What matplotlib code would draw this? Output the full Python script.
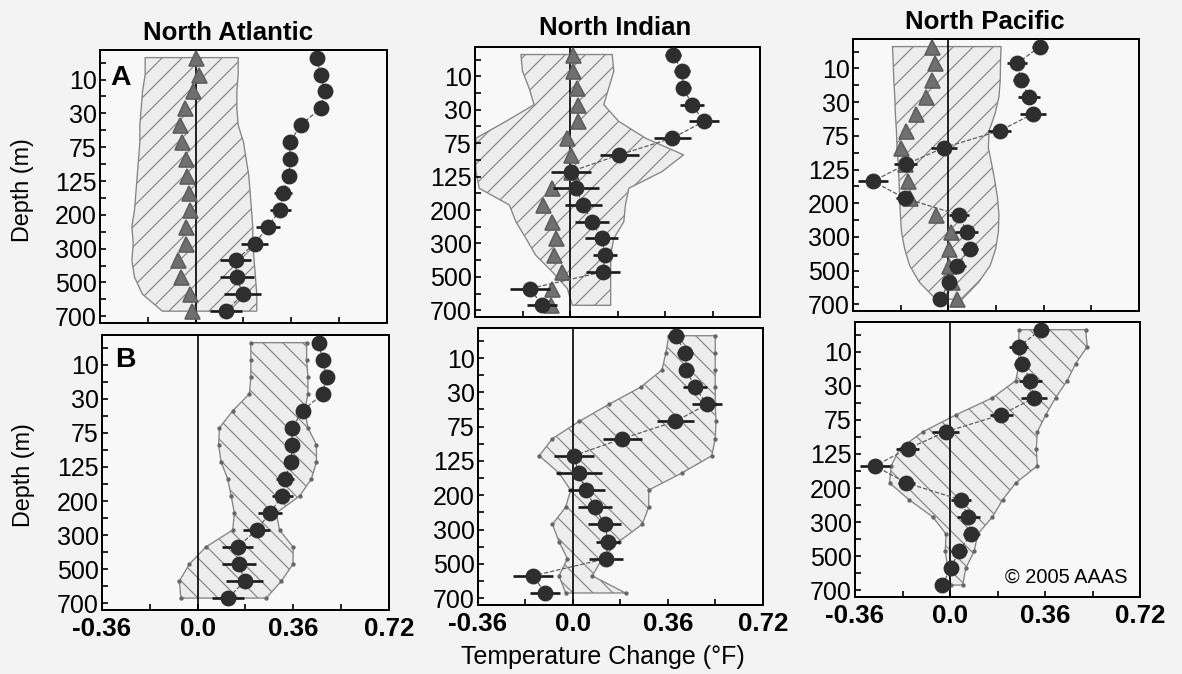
import numpy as np
import matplotlib.pyplot as plt

W, H, DPI = 1182, 674, 120

plt.rcParams['font.family'] = ['Liberation Sans', 'DejaVu Sans']
plt.rcParams['hatch.linewidth'] = 0.7

depths = [0, 10, 20, 30, 50, 75, 100, 125, 150, 200, 250, 300, 400, 500, 600, 700]
oceans = ['North Atlantic', 'North Indian', 'North Pacific']
x_ticks = [-0.36, -0.18, 0.0, 0.18, 0.36, 0.54, 0.72]
x_ticklabels = ['-0.36', '', '0.0', '', '0.36', '', '0.72']

# observed warming (circles) with error bars, shown in both rows
na_obs = [0.455, 0.47, 0.485, 0.47, 0.395, 0.355, 0.355, 0.352, 0.328, 0.318, 0.272, 0.222, 0.15, 0.155, 0.177, 0.115]
na_err = [0.015, 0.015, 0.015, 0.015, 0.025, 0.025, 0.02, 0.025, 0.035, 0.04, 0.045, 0.05, 0.06, 0.065, 0.07, 0.06]
ni_obs = [0.39, 0.425, 0.43, 0.462, 0.508, 0.387, 0.187, 0.003, 0.022, 0.05, 0.083, 0.12, 0.133, 0.125, -0.152, -0.105]
ni_err = [0.03, 0.03, 0.03, 0.044, 0.057, 0.07, 0.075, 0.075, 0.088, 0.07, 0.063, 0.063, 0.044, 0.063, 0.075, 0.057]
np_obs = [0.345, 0.26, 0.274, 0.305, 0.319, 0.194, -0.017, -0.161, -0.285, -0.165, 0.041, 0.069, 0.08, 0.034, 0.003, -0.03]
np_err = [0.03, 0.037, 0.03, 0.043, 0.05, 0.043, 0.05, 0.043, 0.056, 0.031, 0.037, 0.043, 0.031, 0.031, 0.025, 0.019]

# row A: natural model mean (triangles) and its range
na_nat = [0.0, 0.012, -0.01, -0.04, -0.06, -0.05, -0.037, -0.031, -0.025, -0.022, -0.035, -0.037, -0.068, -0.056, -0.022, -0.012]
ni_nat = [0.013, 0.013, 0.028, 0.031, 0.031, -0.01, 0.003, 0.003, -0.067, -0.104, -0.067, -0.054, -0.06, -0.029, -0.067, -0.073]
np_nat = [-0.06, -0.05, -0.06, -0.084, -0.122, -0.159, -0.177, -0.165, -0.153, -0.146, -0.045, 0.009, 0.002, 0.002, 0.015, 0.034]
na_nat_lo = [-0.19, -0.19, -0.2, -0.205, -0.21, -0.21, -0.215, -0.22, -0.225, -0.23, -0.24, -0.235, -0.24, -0.23, -0.2, -0.125]
na_nat_hi = [0.16, 0.16, 0.155, 0.155, 0.16, 0.18, 0.19, 0.2, 0.205, 0.21, 0.215, 0.215, 0.22, 0.225, 0.23, 0.23]
ni_nat_lo = [-0.186, -0.18, -0.155, -0.136, -0.243, -0.356, -0.359, -0.356, -0.344, -0.23, -0.205, -0.167, -0.13, -0.067, -0.01, 0.009]
ni_nat_hi = [0.16, 0.166, 0.147, 0.128, 0.185, 0.286, 0.43, 0.349, 0.223, 0.21, 0.204, 0.166, 0.154, 0.154, 0.154, 0.154]
np_nat_lo = [-0.211, -0.208, -0.206, -0.202, -0.2, -0.196, -0.194, -0.189, -0.186, -0.184, -0.181, -0.177, -0.165, -0.146, -0.109, -0.047]
np_nat_hi = [0.199, 0.197, 0.196, 0.191, 0.176, 0.154, 0.151, 0.164, 0.176, 0.186, 0.191, 0.189, 0.179, 0.158, 0.114, 0.052]

# row B: anthropogenic model range
na_ant_lo = [0.2, 0.2, 0.2, 0.195, 0.132, 0.082, 0.079, 0.088, 0.113, 0.126, 0.138, 0.132, 0.031, -0.031, -0.069, -0.063]
na_ant_hi = [0.41, 0.41, 0.415, 0.415, 0.403, 0.415, 0.447, 0.447, 0.428, 0.384, 0.296, 0.308, 0.359, 0.359, 0.315, 0.258]
ni_ant_lo = [0.363, 0.352, 0.337, 0.256, 0.136, 0.023, -0.078, -0.128, -0.053, -0.009, -0.028, -0.078, -0.053, -0.021, -0.053, -0.028]
ni_ant_hi = [0.539, 0.539, 0.539, 0.539, 0.539, 0.542, 0.539, 0.526, 0.413, 0.287, 0.287, 0.262, 0.174, 0.111, 0.073, 0.199]
np_ant_lo = [0.262, 0.259, 0.262, 0.249, 0.161, 0.023, -0.103, -0.191, -0.223, -0.229, -0.154, -0.065, -0.015, -0.018, -0.009, 0.004]
np_ant_hi = [0.514, 0.52, 0.476, 0.444, 0.4, 0.363, 0.331, 0.327, 0.331, 0.249, 0.199, 0.161, 0.105, 0.092, 0.06, 0.048]

obs = [(na_obs, na_err), (ni_obs, ni_err), (np_obs, np_err)]
nat = [(na_nat, na_nat_lo, na_nat_hi), (ni_nat, ni_nat_lo, ni_nat_hi), (np_nat, np_nat_lo, np_nat_hi)]
ant = [(na_ant_lo, na_ant_hi), (ni_ant_lo, ni_ant_hi), (np_ant_lo, np_ant_hi)]

# axes boxes in pixels (left, top, right, bottom), the scan is slightly skewed
boxes = [[(100, 50, 387, 323), (475, 47, 760, 317), (853, 39, 1139, 311)],
         [(102, 335, 389, 610), (478, 328, 763, 605), (855, 322, 1140, 597)]]


def px_axes(fig, box):
    l, t, r, b = box
    return fig.add_axes([l / W, 1 - b / H, (r - l) / W, (b - t) / H])


def draw_panel(ax, col, row):
    y = np.arange(len(depths))
    o, e = obs[col]
    if row == 0:
        mean, lo, hi = nat[col]
        hatch = '//'
    else:
        lo, hi = ant[col]
        hatch = '\\\\'
    ax.fill_betweenx(y, lo, hi, facecolor='#ededed', edgecolor='#858585',
                     hatch=hatch, linewidth=0.8, zorder=1)
    if row == 1:
        # model ensemble points along the range
        ax.plot(lo, y, ls='none', marker='o', ms=1.6, color='#666666', zorder=2)
        ax.plot(hi, y, ls='none', marker='o', ms=1.6, color='#666666', zorder=2)
    ax.axvline(0, color='black', lw=1.0, zorder=2)
    if row == 0:
        ax.plot(mean, y, ls='none', marker='^', ms=9, color='#707070',
                mec='#5e5e5e', zorder=3)
    ax.plot(o, y, ls='--', lw=0.7, color='#555555', zorder=3)
    ax.errorbar(o, y, xerr=e, fmt='o', ms=8.5, color='#2e2e2e', ecolor='#1a1a1a',
                elinewidth=1.6, capsize=0, zorder=4)

    ax.set_xlim(-0.36, 0.72)
    ax.set_ylim(15.7, -0.45)
    ax.set_yticks(y + 0.3)
    ax.set_yticklabels([str(d) if i % 2 else '' for i, d in enumerate(depths)],
                       fontsize=15)
    ax.set_xticks(x_ticks)
    if row == 1:
        ax.set_xticklabels(x_ticklabels, fontsize=15.5, fontweight='bold')
    else:
        ax.set_xticklabels([])
    ax.tick_params(direction='in', length=3.5, width=1.0, pad=2)
    ax.tick_params(axis='x', pad=4)
    ax.set_facecolor('#f8f8f8')
    for s in ax.spines.values():
        s.set_linewidth(1.2)


fig = plt.figure(figsize=(W / DPI, H / DPI), dpi=DPI, facecolor='#f3f3f3')
for row in range(2):
    for col in range(3):
        ax = px_axes(fig, boxes[row][col])
        draw_panel(ax, col, row)

title_pos = [(228, 33), (615, 28), (985, 22)]
for name, (x, y) in zip(oceans, title_pos):
    fig.text(x / W, 1 - y / H, name, ha='center', va='center',
             fontsize=15.5, fontweight='bold')

fig.text(121 / W, 1 - 78 / H, 'A', ha='center', va='center', fontsize=17, fontweight='bold')
fig.text(125 / W, 1 - 360 / H, 'B', ha='center', va='center', fontsize=17, fontweight='bold')
fig.text(22 / W, 1 - 190 / H, 'Depth (m)', rotation=90, ha='center', va='center', fontsize=14)
fig.text(24 / W, 1 - 475 / H, 'Depth (m)', rotation=90, ha='center', va='center', fontsize=14)
fig.text(603 / W, 1 - 657 / H, 'Temperature Change (°F)', ha='center', va='center', fontsize=15)
fig.text(1066 / W, 1 - 577 / H, '© 2005 AAAS', ha='center', va='center', fontsize=12)

fig.savefig('out.png', dpi=DPI, facecolor=fig.get_facecolor())
